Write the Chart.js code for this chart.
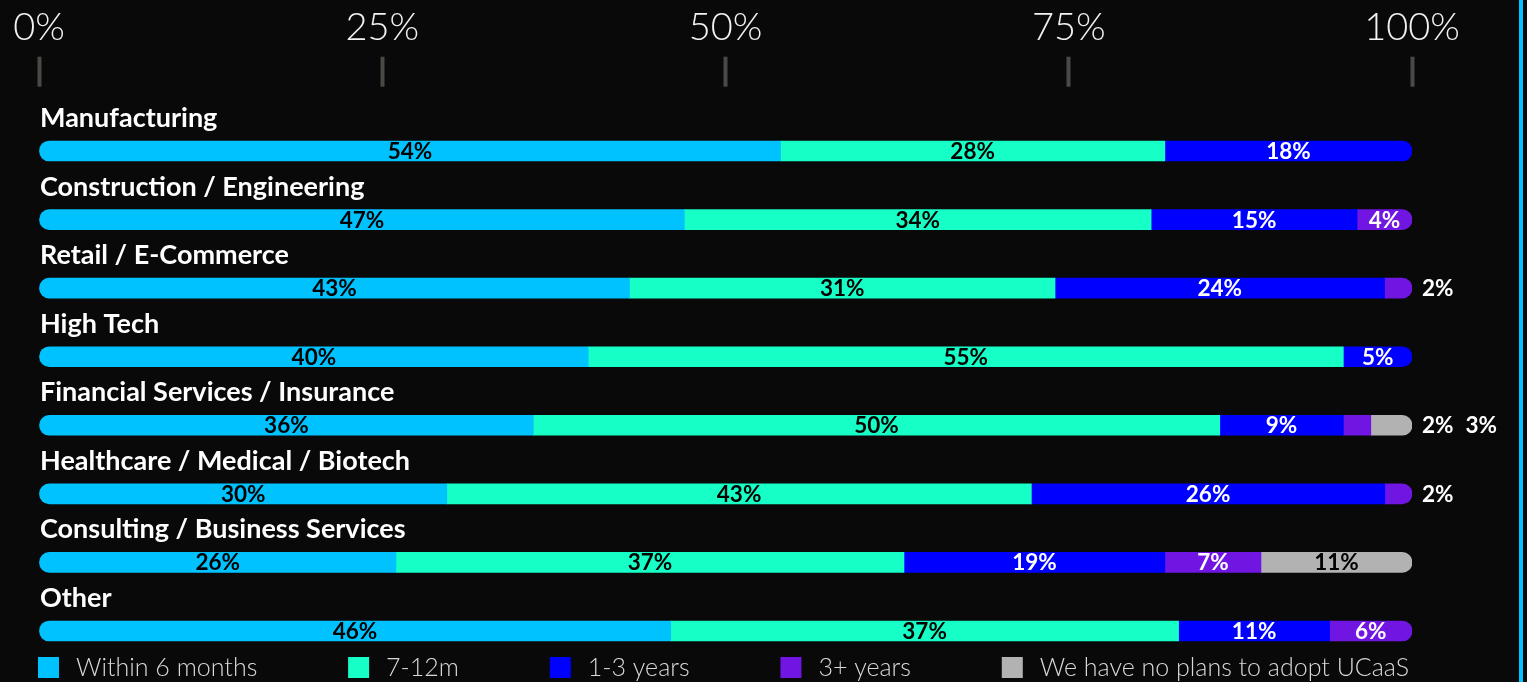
<!DOCTYPE html>
<html>
<head>
<meta charset="utf-8">
<script src="https://cdn.jsdelivr.net/npm/chart.js@4.4.0/dist/chart.umd.min.js"></script>
<style>
  html, body { margin: 0; padding: 0; background: #090909; }
  #wrap { position: relative; width: 1527px; height: 682px; overflow: hidden; }
  #wrap::after { content: ''; position: absolute; left: 1519px; top: 0; width: 4px; height: 682px; background: #00c3ff; }
  canvas { display: block; }
</style>
</head>
<body>
<div id="wrap"><canvas id="chart" width="1527" height="682"></canvas></div>
<script>
// Adoption timeline by industry (share of respondents, %)
const industries = [
  'Manufacturing',
  'Construction / Engineering',
  'Retail / E-Commerce',
  'High Tech',
  'Financial Services / Insurance',
  'Healthcare / Medical / Biotech',
  'Consulting / Business Services',
  'Other'
];
const seriesNames = ['Within 6 months', '7-12m', '1-3 years', '3+ years', 'We have no plans to adopt UCaaS'];
const within6Months = [54, 47, 43, 40, 36, 30, 26, 46];
const months7to12   = [28, 34, 31, 55, 50, 43, 37, 37];
const years1to3     = [18, 15, 24,  5,  9, 26, 19, 11];
const years3plus    = [ 0,  4,  2,  0,  2,  2,  7,  6];
const noPlans       = [ 0,  0,  0,  0,  3,  0, 11,  0];
const tickValues    = [0, 25, 50, 75, 100];

const seriesValues = [within6Months, months7to12, years1to3, years3plus, noPlans];

// styling
const fillColors  = ['#00c2ff', '#16ffc6', '#0000ff', '#7015e2', '#b2b2b2'];
const labelColors = ['#000000', '#000000', '#ffffff', '#ffffff', '#000000'];
const BAR_FONT = 'bold 22.5px Lato';
const CAT_FONT = 'bold 27px Lato';
const LEGEND_FONT = '300 25px Lato';

// each row is drawn as a share of its own total so every bar spans the full axis
const rowTotals = industries.map((_, i) => seriesValues.reduce((s, arr) => s + arr[i], 0));
const firstSeg = industries.map((_, i) => seriesValues.findIndex(a => a[i] > 0));
const lastSeg = industries.map((_, i) => {
  for (let k = seriesValues.length - 1; k >= 0; k--) if (seriesValues[k][i] > 0) return k;
  return -1;
});

const datasets = seriesValues.map((arr, k) => ({
  label: seriesNames[k],
  data: arr.map((v, i) => v > 0 ? v / rowTotals[i] * 100 : null),
  backgroundColor: fillColors[k],
  borderWidth: 0,
  borderSkipped: false,
  barThickness: 20,
  borderRadius: ctx => {
    const i = ctx.dataIndex;
    const l = ctx.datasetIndex === firstSeg[i] ? 10 : 0;
    const r = ctx.datasetIndex === lastSeg[i] ? 10 : 0;
    return { topLeft: l, bottomLeft: l, topRight: r, bottomRight: r };
  }
}));

const labelsPlugin = {
  id: 'barTexts',
  afterDatasetsDraw(chart) {
    const { ctx, chartArea, scales } = chart;
    const yScale = scales.y;
    ctx.save();
    industries.forEach((name, i) => {
      const yc = yScale.getPixelForValue(i);
      // category title above each bar
      ctx.font = CAT_FONT;
      ctx.fillStyle = '#ffffff';
      ctx.textAlign = 'left';
      ctx.textBaseline = 'alphabetic';
      ctx.fillText(name, chartArea.left + 1, yc - 24);

      // value labels
      let outsideX = chartArea.right + 10;
      seriesValues.forEach((arr, k) => {
        const v = arr[i];
        if (!v) return;
        const el = chart.getDatasetMeta(k).data[i];
        const txt = v + '%';
        ctx.font = BAR_FONT;
        ctx.textBaseline = 'alphabetic';
        if (v >= 4) {
          ctx.textAlign = 'center';
          ctx.fillStyle = labelColors[k];
          ctx.fillText(txt, (el.base + el.x) / 2, yc + 8);
        } else {
          ctx.textAlign = 'left';
          ctx.fillStyle = '#ffffff';
          ctx.fillText(txt, outsideX, yc + 8);
          outsideX += ctx.measureText(txt).width + 12;
        }
      });
    });
    ctx.restore();
  }
};

const legendPlugin = {
  id: 'spreadLegend',
  afterDraw(chart) {
    const { ctx, chartArea } = chart;
    ctx.save();
    ctx.font = LEGEND_FONT;
    const box = 21, gapText = 17;
    const widths = seriesNames.map(n => box + gapText + ctx.measureText(n).width);
    const total = widths.reduce((a, b) => a + b, 0);
    const left = chartArea.left - 1, right = chartArea.right - 3;
    const gap = (right - left - total) / (seriesNames.length - 1);
    let x = left;
    seriesNames.forEach((n, k) => {
      ctx.fillStyle = fillColors[k];
      ctx.fillRect(x, 657, box, box);
      ctx.fillStyle = '#d9d9d9';
      ctx.textAlign = 'left';
      ctx.textBaseline = 'alphabetic';
      ctx.fillText(n, x + box + gapText, 676);
      x += widths[k] + gap;
    });
    ctx.restore();
  }
};

new Chart(document.getElementById('chart'), {
  type: 'bar',
  data: { labels: industries, datasets },
  options: {
    indexAxis: 'y',
    responsive: false,
    animation: false,
    devicePixelRatio: 1,
    layout: { padding: { left: 39, right: 115, top: 0, bottom: 16.7 } },
    plugins: { legend: { display: false }, tooltip: { enabled: false } },
    scales: {
      x: {
        position: 'top',
        stacked: true,
        min: 0,
        max: 100,
        afterBuildTicks: s => { s.ticks = tickValues.map(v => ({ value: v })); },
        afterFit: s => { s.height = 116.7; },
        ticks: {
          callback: v => v + '%',
          color: '#f2f2f2',
          font: { family: 'Lato', weight: 300, size: 38 },
          padding: 6,
          maxRotation: 0,
          autoSkip: false
        },
        grid: {
          drawOnChartArea: false,
          drawTicks: true,
          tickLength: 60,
          tickWidth: 4,
          tickColor: '#4b4946',
          tickBorderDash: [30, 60]
        },
        border: { display: false }
      },
      y: { stacked: true, display: false }
    }
  },
  plugins: [labelsPlugin, legendPlugin]
});
</script>
</body>
</html>
